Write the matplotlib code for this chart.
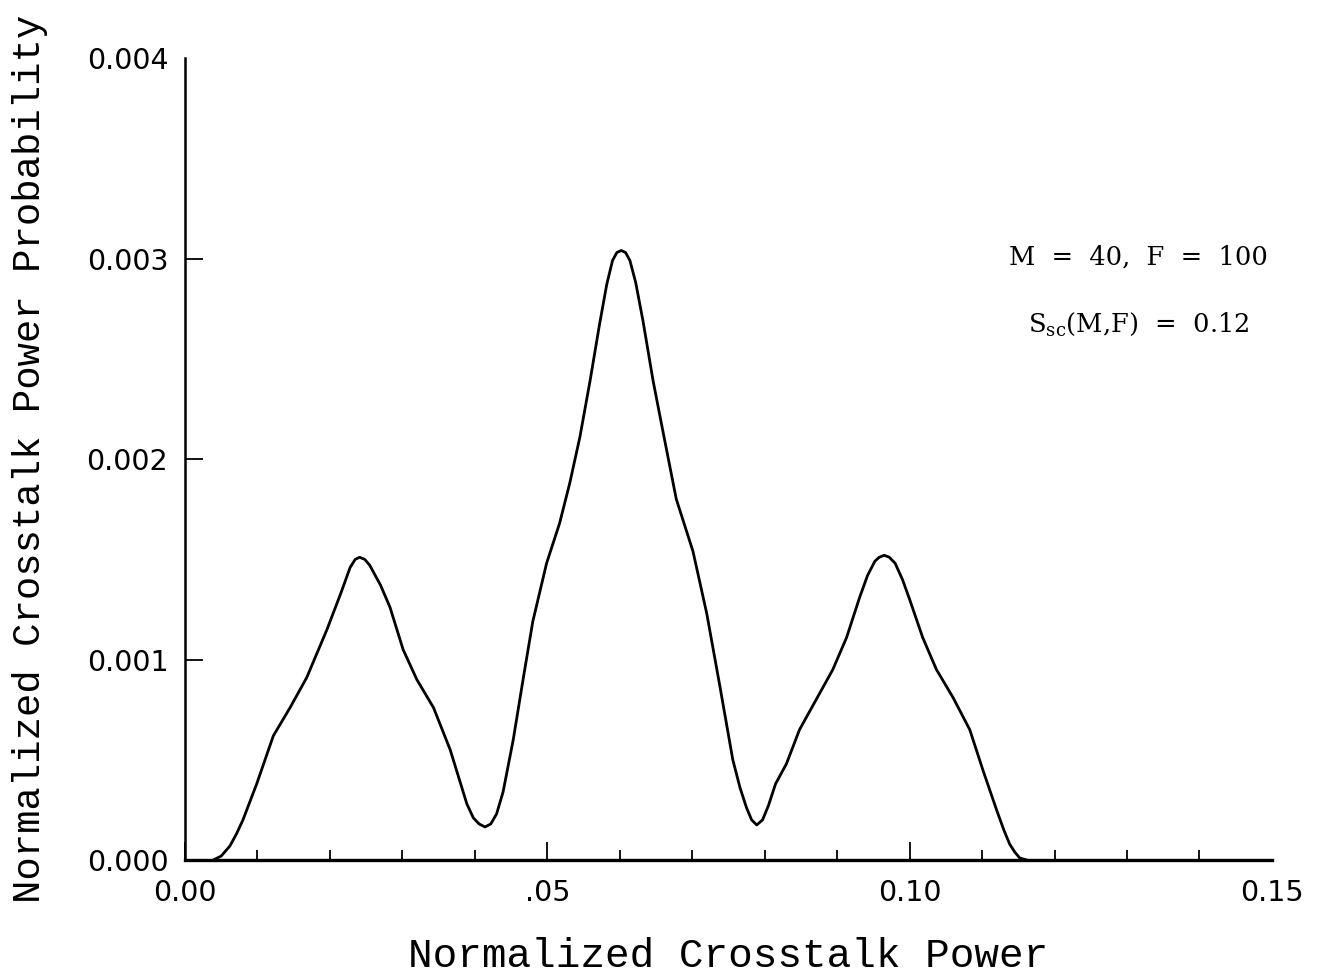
import matplotlib
matplotlib.use("Agg")
import matplotlib.pyplot as plt
from matplotlib.ticker import MultipleLocator

# values
power = [0.0039, 0.0050, 0.0062, 0.0071, 0.0080, 0.0099, 0.0122, 0.0145, 0.0168, 0.0196,
         0.0215, 0.0228, 0.0235, 0.0241, 0.0248, 0.0255, 0.0270, 0.0283, 0.0301, 0.0320,
         0.0343, 0.0366, 0.0389, 0.0398, 0.0406, 0.0414, 0.0422, 0.0430, 0.0439, 0.0453,
         0.0467, 0.0480, 0.0499, 0.0517, 0.0531, 0.0545, 0.0559, 0.0572, 0.0582, 0.0590,
         0.0596, 0.0602, 0.0608, 0.0614, 0.0622, 0.0632, 0.0646, 0.0660, 0.0678, 0.0701,
         0.0720, 0.0738, 0.0756, 0.0766, 0.0775, 0.0782, 0.0789, 0.0797, 0.0805, 0.0815,
         0.0830, 0.0848, 0.0871, 0.0894, 0.0913, 0.0931, 0.0942, 0.0952, 0.0958, 0.0965,
         0.0972, 0.0980, 0.0990, 0.1000, 0.1018, 0.1037, 0.1060, 0.1083, 0.1101, 0.1120,
         0.1130, 0.1138, 0.1145, 0.1152, 0.1162]
prob = [0.00000, 0.00002, 0.00007, 0.00013, 0.00020, 0.00038, 0.00062, 0.00076, 0.00091, 0.00115,
        0.00133, 0.00146, 0.00150, 0.00151, 0.00150, 0.00147, 0.00137, 0.00126, 0.00105, 0.00090,
        0.00076, 0.00055, 0.00028, 0.00021, 0.00018, 0.000165, 0.00018, 0.00023, 0.00034, 0.00060,
        0.00091, 0.00119, 0.00148, 0.00168, 0.00188, 0.00211, 0.00239, 0.00267, 0.00287, 0.00299,
        0.00303, 0.00304, 0.00303, 0.00299, 0.00288, 0.00269, 0.00239, 0.00213, 0.00180, 0.00154,
        0.00123, 0.00087, 0.00050, 0.00036, 0.00026, 0.00020, 0.000175, 0.00020, 0.00027, 0.00038,
        0.00048, 0.00065, 0.00080, 0.00095, 0.00111, 0.00131, 0.00142, 0.00149, 0.00151, 0.00152,
        0.00151, 0.00148, 0.00140, 0.00130, 0.00111, 0.00095, 0.00081, 0.00065, 0.00045, 0.00025,
        0.00015, 0.00008, 0.00004, 0.00001, 0.00000]

x_ticks = [0.0, 0.05, 0.10, 0.15]
x_labels = ["0.00", ".05", "0.10", "0.15"]
y_ticks = [0.0, 0.001, 0.002, 0.003, 0.004]
y_labels = ["0.000", "0.001", "0.002", "0.003", "0.004"]

plt.rcParams["mathtext.fontset"] = "dejavuserif"

fig = plt.figure(figsize=(13.24, 9.80), dpi=100)
ax = fig.add_axes([0.1397, 0.1224, 0.821, 0.8184])

ax.plot(power, prob, color="black", linewidth=2.0, solid_joinstyle="round")

ax.set_xlim(0, 0.15)
ax.set_ylim(0, 0.004)
ax.spines["top"].set_visible(False)
ax.spines["right"].set_visible(False)
ax.spines["left"].set_linewidth(1.8)
ax.spines["bottom"].set_linewidth(2.4)

ax.set_xticks(x_ticks)
ax.set_xticklabels(x_labels)
ax.xaxis.set_minor_locator(MultipleLocator(0.01))
ax.set_yticks(y_ticks)
ax.set_yticklabels(y_labels)
ax.tick_params(axis="both", which="major", direction="in", length=13, width=1.3,
               labelsize=20.5)
ax.tick_params(axis="x", which="major", pad=14)
ax.tick_params(axis="y", which="major", pad=12)
ax.tick_params(axis="x", which="minor", direction="in", length=7, width=1.3)
for lab in ax.get_xticklabels() + ax.get_yticklabels():
    lab.set_fontfamily("DejaVu Sans")
# no tick marks drawn at the ends of the axes
ax.yaxis.get_major_ticks()[-1].tick1line.set_visible(False)
ax.xaxis.get_major_ticks()[-1].tick1line.set_visible(False)

ax.set_xlabel("Normalized Crosstalk Power", family="Liberation Mono", fontsize=29.5, labelpad=21)
ax.set_ylabel("Normalized Crosstalk Power Probability", family="Liberation Mono", fontsize=28,
              labelpad=28)

ax.text(0.1316, 0.00301, "M  =  40,  F  =  100", family="DejaVu Serif", fontsize=18.5,
        ha="center", va="center")
ax.text(0.1316, 0.00267, r"S$_{\mathrm{sc}}$(M,F)  =  0.12", family="DejaVu Serif", fontsize=18.5,
        ha="center", va="center")

fig.savefig("out.png", dpi=100)
